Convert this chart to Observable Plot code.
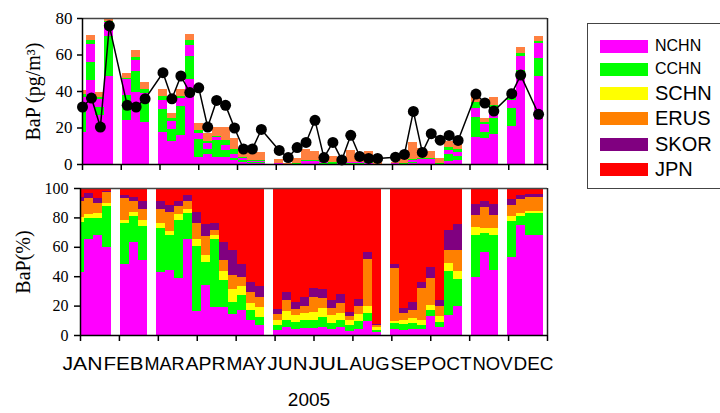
<!DOCTYPE html>
<html><head><meta charset="utf-8">
<script src="https://cdn.jsdelivr.net/npm/d3@7"></script>
<script src="https://cdn.jsdelivr.net/npm/@observablehq/plot@0.6"></script>
<style>
body{margin:0;background:#fff;}
#wrap{position:relative;width:720px;height:413px;overflow:hidden;background:#fff;font-family:"Liberation Sans",Arial,sans-serif;}
#wrap svg{position:absolute;left:0;}
#legend{position:absolute;left:587px;top:23px;width:160px;height:166px;border:1px solid #444;box-sizing:border-box;}
.lg{position:absolute;left:600px;width:48px;height:13px;}
.lt{position:absolute;left:655px;line-height:1;color:#000;white-space:nowrap;}
#year{position:absolute;left:80px;width:458px;top:390px;text-align:center;font-size:19px;line-height:20px;color:#000;}
</style></head><body><div id="wrap"></div>
<script>
const regions = ["NCHN","CCHN","SCHN","ERUS","SKOR","JPN"];
const colors = ["#ff00ff","#00ff00","#ffff00","#ff8000","#800080","#ff0000"];
const topPalette = ["#ff00ff","#00ff00","#ff00ff","#ff00ff","#00ff00","#ff8040"];
const months = ["JAN","FEB","MAR","APR","MAY","JUN","JUL","AUG","SEP","OCT","NOV","DEC"];
const yearLabel = "2005";

// weekly percentage contributions (week 0..51), null = no sample
const pNCHN = [43,65,68,60,null,48.5,63,51,null,43,44.5,39,65,16,34,19,19,14,17,10.5,6.5,null,3.3,5.3,4.2,4.6,4.6,5.7,4.1,5.2,2.9,4.1,9.8,2,null,4.2,3.4,4.1,4.1,13,5.2,13.7,19.8,null,39.2,56.3,44.4,null,53,74.5,68.3,68.3];
const pCCHN = [34,14.5,11.5,28,null,27.5,18,23,null,30,23.5,39,18,44.5,16,46,18.5,8.5,10,6.5,6,null,3.4,5.2,4.8,5.3,5.7,6.3,4.3,5.1,3.8,5.7,5,1.5,null,3.8,4.1,3.9,2.7,4.1,3.9,29.6,18.4,null,29.1,13.2,23.9,null,24.4,6.3,14.4,14.4];
const pSCHN = [3,2.5,3.5,2,null,2.5,3,4,null,3.5,3,4,3,4.5,4.5,3,6,9,6,5,6.5,null,3.8,5.5,4.5,5.3,5.2,6.2,5.3,5,3.4,4.5,5,2,null,1.8,2.8,3.4,3.5,3.4,3.9,5.7,5.1,null,5.2,3.4,4.6,null,3.4,2.3,1.5,1.5];
const pERUS = [11,11,7,7,null,14.5,7,8,null,9.5,13,6,5,11,13,3.5,7.5,9,6.5,7,7,null,3.5,7.5,4.5,4.8,10.5,6.8,4.5,6.7,2.8,5.5,31.9,1.1,null,35.6,5,5.7,22,18.2,6.8,9.1,14.8,null,7.8,14.3,8.4,null,7.3,9.6,9.8,9.8];
const pSKOR = [3,3.5,3,0.7,null,2,3,5,null,5,4.5,3,4,7.5,8,4.5,12.5,17,9,7,7,null,4,5.7,4.5,5.8,6,6.2,5.8,6,2.9,4.5,4.8,1.2,null,3.2,2.9,5.2,3.5,7.5,4.1,13,17.1,null,7.5,3.9,7.5,null,4.6,2.3,2.1,2.1];
const pJPN  = [6,3.5,7,2.3,null,5,6,9,null,9,11.5,9,5,16.5,24.5,24,36.5,42.5,51.5,64,67,null,82,70.8,77.5,74.2,68,68.8,76,72,84.2,75.7,43.5,92.2,null,51.4,81.8,77.7,64.2,53.8,76.1,28.9,24.8,null,11.2,8.9,11.2,null,7.3,5,3.9,3.9];

// modelled weekly BaP total (pg/m3) and observed BaP (pg/m3)
const modelTotal = [40.6,70.5,39.5,80,null,49.8,62.6,45.2,null,41,28.2,41,71.4,22.3,16.8,20.5,20.5,14,7.7,6.4,6.8,null,2.6,0.8,3.1,8.2,7.3,4.5,4.2,1.5,7.7,4.5,7.3,3.5,null,1.3,4,11.9,8.5,7.3,3.1,12.8,11,null,38,25.4,36.6,null,39.7,64,null,70.3];
const observed = [31.5,36.4,20.5,76,null,32.4,31.5,36,null,50.3,36,48.5,39.4,42,20.5,35.1,32.4,20,8.5,8.5,19.2,null,7.7,3.8,9.3,12.1,24.2,3.8,12.1,2.5,16,4.4,3.3,3.3,null,4,5.5,29.1,6.6,16.9,13.3,15.9,13.2,null,38.6,33.7,29.3,null,38.8,49,null,27.5];

const pcts = [pNCHN,pCCHN,pSCHN,pERUS,pSKOR,pJPN];
const nWeeks = 52;
const weekX = k => k * 12 / nWeeks;       // week centre in month units
const half = 6 / nWeeks;

const topRows = [], botRows = [];
for (let k = 0; k < nWeeks; k++) {
  if (pNCHN[k] != null) {
    let acc = 0;
    regions.forEach((r, i) => {
      const v = pcts[i][k];
      botRows.push({x1: weekX(k) - half, x2: weekX(k) + half, y1: acc, y2: acc + v, fill: colors[i]});
      acc += v;
    });
  }
  if (modelTotal[k] != null) {
    let acc = 0;
    regions.forEach((r, i) => {
      const v = modelTotal[k] * pcts[i][k] / 100;
      topRows.push({x1: weekX(k) - half, x2: weekX(k) + half, y1: acc, y2: acc + v, fill: topPalette[i]});
      acc += v;
    });
  }
}
const obsRows = [];
observed.forEach((v, k) => { if (v != null) obsRows.push({x: weekX(k), y: v}); });

const serif = '"Liberation Serif","Times New Roman",serif';
const wrap = document.getElementById("wrap");

const topPlot = Plot.plot({
  width: 720, height: 175,
  marginLeft: 82, marginRight: 173, marginTop: 18, marginBottom: 11,
  x: {domain: [0, 12]},
  y: {domain: [0, 80]},
  style: {fontFamily: serif, fontSize: "17px", color: "#000", background: "transparent", overflow: "visible"},
  marks: [
    Plot.rect(topRows, {x1: "x1", x2: "x2", y1: "y1", y2: "y2", fill: "fill", clip: true, shapeRendering: "crispEdges"}),
    Plot.ruleY([80], {stroke: "#444", strokeWidth: 1.5}),
    Plot.ruleX([12], {stroke: "#222", strokeWidth: 1.5}),
    Plot.ruleX([0], {stroke: "#000", strokeWidth: 1.5}),
    Plot.ruleY([0], {stroke: "#000", strokeWidth: 1.5}),
    Plot.line(obsRows, {x: "x", y: "y", stroke: "#000", strokeWidth: 1.5}),
    Plot.dot(obsRows, {x: "x", y: "y", r: 5.5, fill: "#000", stroke: "none"}),
    Plot.axisY({ticks: [0, 20, 40, 60, 80], tickSize: 5, tickPadding: 5, label: null, strokeWidth: 1.5}),
    Plot.axisX({ticks: d3.range(0, 13), tickSize: 6, tickFormat: () => "", label: null, strokeWidth: 1.5}),
    Plot.text(["BaP (pg/m³)"], {frameAnchor: "left", textAnchor: "middle", rotate: -90, dx: -49, fontSize: 20, fontFamily: serif})
  ]
});
topPlot.style.top = "0px";
wrap.appendChild(topPlot);

const botPlot = Plot.plot({
  width: 720, height: 170,
  marginLeft: 80, marginRight: 173, marginTop: 13, marginBottom: 10,
  x: {domain: [0, 12]},
  y: {domain: [0, 100]},
  style: {fontFamily: serif, fontSize: "16px", color: "#000", background: "transparent", overflow: "visible"},
  marks: [
    Plot.rect(botRows, {x1: "x1", x2: "x2", y1: "y1", y2: "y2", fill: "fill", clip: true, shapeRendering: "crispEdges"}),
    Plot.ruleY([100], {stroke: "#444", strokeWidth: 1.5}),
    Plot.ruleX([12], {stroke: "#222", strokeWidth: 1.5}),
    Plot.ruleX([0], {stroke: "#000", strokeWidth: 1.5}),
    Plot.ruleY([0], {stroke: "#000", strokeWidth: 1.5}),
    Plot.axisY({ticks: [0, 20, 40, 60, 80, 100], tickSize: 6, tickPadding: 6, label: null, strokeWidth: 1.5}),
    Plot.axisX({ticks: d3.range(0, 13), tickSize: 6, tickFormat: () => "", label: null, strokeWidth: 1.5}),
    Plot.text(["BaP(%)"], {frameAnchor: "left", textAnchor: "middle", rotate: -90, dx: -57, fontSize: 20, fontFamily: serif})
  ]
});
botPlot.style.top = "175px";
wrap.appendChild(botPlot);

const monthPlot = Plot.plot({
  width: 720, height: 40, margin: 0,
  x: {domain: [0, 11], range: [82, 533], axis: null},
  y: {axis: null},
  style: {background: "transparent", overflow: "visible"},
  marks: [
    Plot.text(months, {x: (d, i) => i, text: d => d, frameAnchor: "middle", fontSize: 18, fontFamily: '"Liberation Sans",Arial,sans-serif', fill: "#000"})
  ]
});
monthPlot.style.top = "344px";
monthPlot.querySelectorAll("text").forEach(t => {
  t.setAttribute("textLength", "40");
  t.setAttribute("lengthAdjust", "spacingAndGlyphs");
});
wrap.appendChild(monthPlot);

const yr = document.createElement("div");
yr.id = "year"; yr.textContent = yearLabel;
wrap.appendChild(yr);

// legend
const lg = document.createElement("div"); lg.id = "legend"; wrap.appendChild(lg);
const ys = [46, 69, 93, 118, 144, 169];
const fs = [16, 16, 20, 20, 20, 20];
regions.forEach((r, i) => {
  const sw = document.createElement("div");
  sw.className = "lg"; sw.style.top = (ys[i] - 6.5) + "px"; sw.style.background = colors[i];
  wrap.appendChild(sw);
  const t = document.createElement("div");
  t.className = "lt"; t.textContent = r; t.style.fontSize = fs[i] + "px";
  t.style.top = (ys[i] - fs[i] * 0.5) + "px";
  wrap.appendChild(t);
});
</script>
</body></html>
